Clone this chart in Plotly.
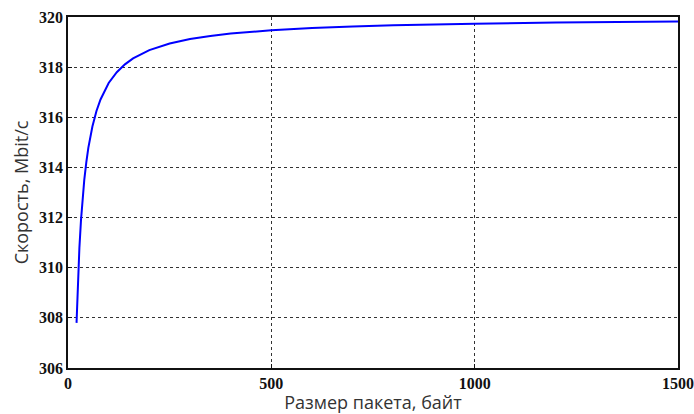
import plotly.graph_objects as go

packet_size = [21, 22, 25, 28, 32, 36, 40, 45, 50, 60, 70, 80, 90, 100, 120, 140, 160, 180,
               200, 250, 300, 350, 400, 500, 600, 700, 800, 1000, 1200, 1500]
speed = [307.80, 308.37, 309.72, 310.79, 311.91, 312.79, 313.50, 314.20, 314.78, 315.63,
         316.25, 316.71, 317.07, 317.37, 317.80, 318.11, 318.35, 318.53, 318.68, 318.94,
         319.12, 319.24, 319.34, 319.47, 319.56, 319.62, 319.67, 319.73, 319.78, 319.82]

x_ticks = [0, 500, 1000, 1500]
y_ticks = [306, 308, 310, 312, 314, 316, 318, 320]

fig = go.Figure()
fig.add_trace(go.Scatter(x=packet_size, y=speed, mode="lines",
                         line=dict(color="#0000ff", width=2), showlegend=False))

tickfont = dict(family="Liberation Serif", size=16, color="#111111", weight="bold")
titlefont = dict(family="Open Sans", size=18, color="#333333")

common = dict(showgrid=True, gridcolor="#333333", griddash="3px,3px", gridwidth=1,
              showline=True, linecolor="#111111", linewidth=1.5, mirror=True,
              ticks="inside", ticklen=4, tickcolor="#111111", zeroline=False,
              automargin=False, tickfont=tickfont)

fig.update_layout(
    width=694, height=414,
    margin=dict(l=68, r=16, t=17, b=46),
    paper_bgcolor="white", plot_bgcolor="white",
    xaxis=dict(range=[0, 1500], tickvals=x_ticks, ticktext=[str(v) for v in x_ticks],
               title=dict(text="Размер пакета, байт", font=titlefont, standoff=2), **common),
    yaxis=dict(range=[306, 320], tickvals=y_ticks, ticktext=[str(v) for v in y_ticks],
               title=dict(text="Скорость, Mbit/c", font=titlefont, standoff=6), **common),
)

fig.write_html("out.html")
